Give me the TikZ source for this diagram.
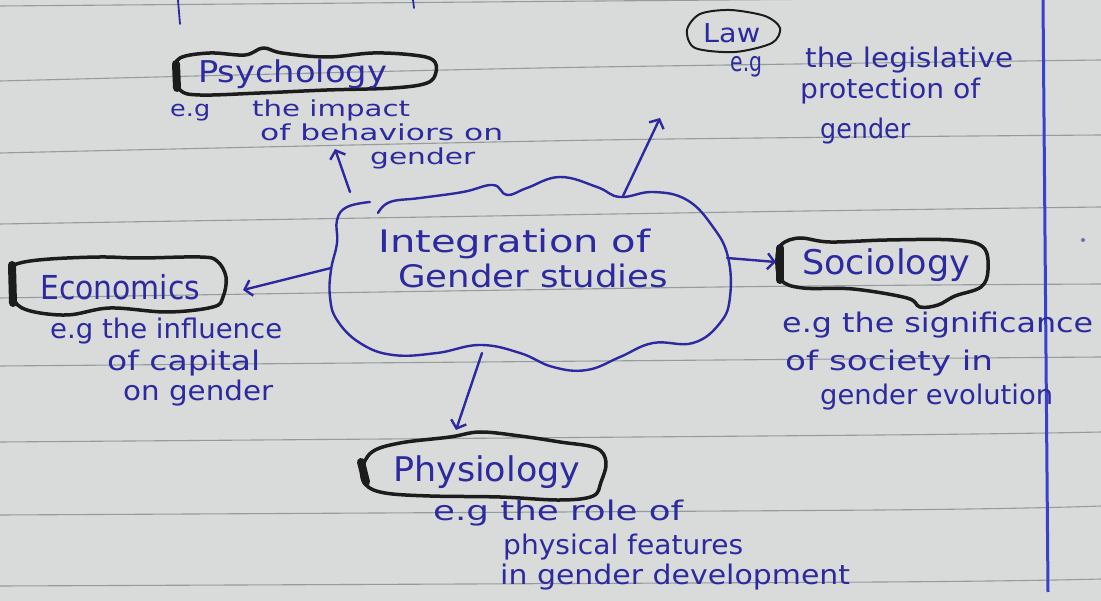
\documentclass[tikz,border=0pt]{standalone}
\usepackage{fontspec}
\setmainfont{DejaVu Sans}
\usetikzlibrary{arrows.meta}
\definecolor{paper}{RGB}{216,219,218}
\definecolor{rulecol}{RGB}{150,155,155}
\definecolor{ink}{RGB}{45,42,160}
\definecolor{margincol}{RGB}{55,65,205}
\definecolor{marker}{RGB}{28,28,28}
\newcommand{\hw}[2]{\resizebox{#1pt}{\height}{#2}}
\begin{document}
\begin{tikzpicture}[x=1pt,y=-1pt,
  txt/.style={anchor=base west, inner sep=0pt, text=ink, font=\fontsize{27}{27}\selectfont},
  small/.style={txt, font=\fontsize{22}{22}\selectfont},
  title/.style={anchor=base west, inner sep=0pt, text=ink, font=\fontsize{#1}{#1}\selectfont},
  title/.default=32,
  inkline/.style={draw=ink, line width=2.4pt, line cap=round, line join=round},
  arr/.style={inkline, -{Straight Barb[length=7pt,width=16pt]}},
  outline/.style={draw=marker, line width=3.5pt, line cap=round, line join=round},
  blob/.style={draw=marker, line width=8pt, line cap=round},
  ruled/.style={draw=rulecol, line width=1.1pt}]
\useasboundingbox (0,0) rectangle (1101,601);
\fill[paper] (0,0) rectangle (1101,601);
% ruled paper
\draw[ruled] plot[smooth] coordinates {(0,6) (600,1) (1101,-3)};
\draw[ruled] plot[smooth] coordinates {(0,81) (540,68) (1101,60)};
\draw[ruled] plot[smooth] coordinates {(0,153) (600,140) (1101,135)};
\draw[ruled] plot[smooth] coordinates {(0,224) (740,212) (1101,207)};
\draw[ruled] plot[smooth] coordinates {(0,298) (720,287) (1101,284)};
\draw[ruled] plot[smooth] coordinates {(0,366) (720,360) (1101,357)};
\draw[ruled] plot[smooth] coordinates {(0,442) (880,435) (1101,432)};
\draw[ruled] plot[smooth] coordinates {(0,515) (880,510) (1101,506)};
\draw[ruled] plot[smooth] coordinates {(0,586) (880,582) (1101,579)};
\draw[draw=margincol, line width=3pt] (1043,0) -- (1048,592);
\draw[inkline, line width=1.8pt] (178,0) -- (180,24);
\draw[inkline, line width=1.8pt] (413,0) -- (414,8);
\fill[ink!70] (1083,240) circle (2pt);

% central cloud
\draw[inkline] plot[smooth, tension=0.7] coordinates {(378,213) (390,202) (420,198) (463,192) (493,185) (507,195) (527,188) (560,177) (597,187) (620,197) (653,192) (687,200) (713,227) (728,257) (730,297) (720,323) (693,343) (653,343) (620,357) (587,370) (553,367) (520,353) (480,345) (437,353) (393,355) (360,343) (337,320) (330,297) (331,270) (337,243) (337,220) (347,207) (370,202)};
\node[title=31] (int1) at (378,253) {\hw{272}{Integration of}};
\node[title=31] (int2) at (398,288) {\hw{270}{Gender studies}};

% Psychology
\draw[outline] plot[smooth cycle, tension=0.6] coordinates {(175,72) (180,58) (210,53) (245,55) (263,48) (282,53) (327,57) (373,53) (413,55) (433,60) (436,72) (427,83) (393,88) (327,90) (260,93) (200,95) (180,90)};
\draw[blob] (176,64) -- (177,88);
\node[title=30] (psy) at (198,83) {\hw{189}{Psychology}};
\node[small] (psyeg) at (170,117) {\hw{40}{e.g}};
\node[small] (psy1) at (252,117) {\hw{158}{the impact}};
\node[small] (psy2) at (260,141) {\hw{243}{of behaviors on}};
\node[small] (psy3) at (370,165) {\hw{105}{gender}};

% Law
\draw[draw=marker, line width=2pt] plot[smooth cycle] coordinates {(687,30) (700,14) (730,10) (765,16) (780,28) (772,43) (735,52) (695,48)};
\node[title=26] (law) at (703,43) {\hw{57}{Law}};
\node[txt] (laweg) at (730,72) {\hw{32}{e.g}};
\node[txt] (law1) at (805,68) {\hw{208}{the legislative}};
\node[txt] (law2) at (800,99) {\hw{180}{protection of}};
\node[txt] (law3) at (820,139) {\hw{90}{gender}};

% Economics
\draw[outline] plot[smooth cycle, tension=0.6] coordinates {(12,270) (20,263) (50,259) (100,257) (140,258) (200,257) (217,261) (226,277) (223,297) (213,307) (167,312) (110,308) (67,315) (27,310) (13,297)};
\draw[blob] (12,265) -- (13,303);
\node[title=33] (eco) at (40,300) {\hw{160}{Economics}};
\node[txt] (eco1) at (50,339) {\hw{232}{e.g the influence}};
\node[txt] (eco2) at (107,371) {\hw{153}{of capital}};
\node[txt] (eco3) at (123,401) {\hw{150}{on gender}};

% Sociology
\draw[outline] plot[smooth cycle, tension=0.6] coordinates {(777,258) (782,244) (800,238) (830,242) (887,240) (953,240) (983,247) (988,270) (981,287) (955,296) (938,305) (920,307) (907,298) (853,289) (803,288) (781,280)};
\draw[blob] (780,248) -- (780,280);
\node[title=34] (soc) at (802,275) {\hw{168}{Sociology}};
\node[txt] (soc1) at (782,333) {\hw{311}{e.g the significance}};
\node[txt] (soc2) at (785,371) {\hw{208}{of society in}};
\node[txt] (soc3) at (820,405) {\hw{233}{gender evolution}};

% Physiology
\draw[outline] plot[smooth cycle, tension=0.6] coordinates {(362,470) (372,452) (400,443) (450,437) (480,432) (520,436) (560,442) (596,448) (606,462) (601,482) (593,496) (560,500) (500,497) (430,496) (385,493) (366,485)};
\draw[blob] (361,462) -- (366,482);
\node[title=34] (phy) at (393,482) {\hw{187}{Physiology}};
\node[txt] (phy1) at (433,521) {\hw{250}{e.g the role of}};
\node[txt] (phy2) at (503,554) {\hw{240}{physical features}};
\node[txt] (phy3) at (500,584) {\hw{350}{in gender development}};

% connectors
\coordinate (cPsy) at (350,192);  \coordinate (tPsy) at (335,149);
\coordinate (cLaw) at (623,196);  \coordinate (tLaw) at (660,118);
\coordinate (cEco) at (331,268);  \coordinate (tEco) at (243,290);
\coordinate (cSoc) at (727,258);  \coordinate (tSoc) at (776,262);
\coordinate (cPhy) at (482,353);  \coordinate (tPhy) at (456,430);
\draw[arr] (cPsy) -- (tPsy);
\draw[arr] (cLaw) -- (tLaw);
\draw[arr] (cEco) -- (tEco);
\draw[arr] (cSoc) -- (tSoc);
\draw[arr] (cPhy) -- (tPhy);
\end{tikzpicture}
\end{document}
